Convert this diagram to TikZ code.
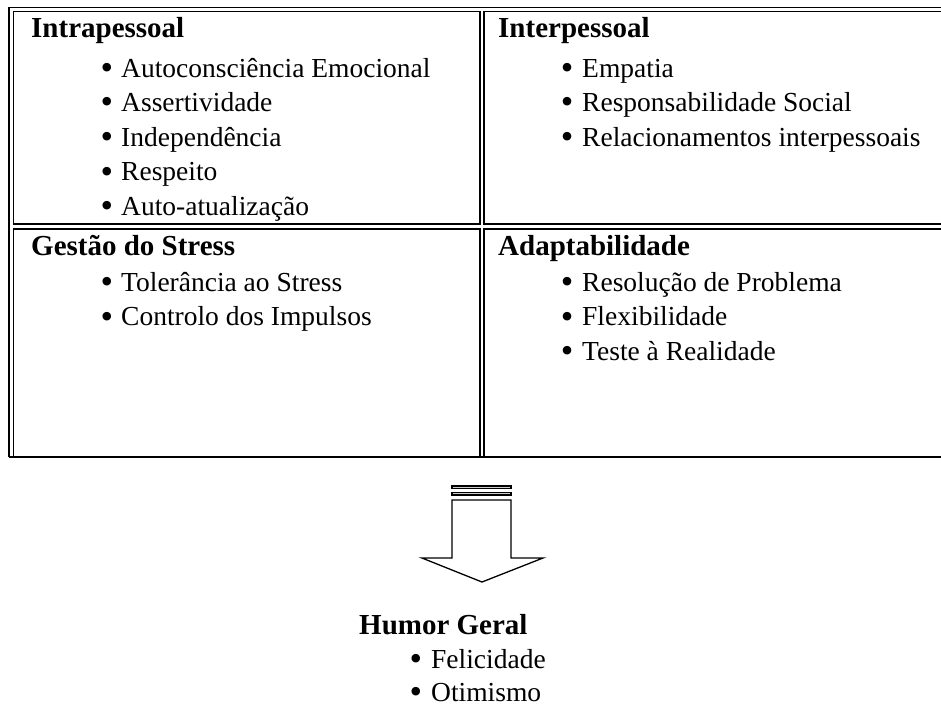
\documentclass[tikz,border=0pt]{standalone}
\usepackage{fontspec}
\setmainfont{Liberation Serif}
\newcommand{\bigbul}{\raisebox{-2.3pt}{\scalebox{1.3}{•}}}
\begin{document}
\begin{tikzpicture}[x=1pt,y=-1pt,
  txt/.style={inner sep=0pt,anchor=base west,font=\fontsize{27.5}{33}\selectfont},
  head/.style={inner sep=0pt,anchor=base west,font=\fontsize{29}{34}\selectfont\bfseries},
  bul/.style={inner sep=0pt,anchor=base,font=\fontsize{27.5}{33}\selectfont},
  tline/.style={line width=1.6pt},
  arr/.style={line width=1.3pt,fill=white}]
\useasboundingbox (0,0) rectangle (941,706);
% outer lines
\draw[tline] (9,457) -- (9,7.5) -- (941,7.5);
\draw[tline] (9,457) -- (941,457);
% inner cell frames
\draw[tline] (13.5,224) -- (13.5,11.5) -- (480,11.5) -- (480,224) -- cycle;
\draw[tline] (941,11.5) -- (484,11.5) -- (484,224) -- (941,224);
\draw[tline] (13.5,457) -- (13.5,229) -- (480,229) -- (480,457);
\draw[tline] (941,229) -- (484,229) -- (484,457);
% top-left
\node[head] (h1) at (31,38) {Intrapessoal};
\foreach \t [count=\i] in {Autoconsciência Emocional,Assertividade,Independência,Respeito,Auto-atualização}{
  \node[bul] (b1\i) at (107,42.5+\i*34.6) {\bigbul};
  \node[txt] (t1\i) at (121,42.5+\i*34.6) {\t};
}
% top-right
\node[head] (h2) at (498,38) {Interpessoal};
\foreach \t [count=\i] in {Empatia,Responsabilidade Social,Relacionamentos interpessoais}{
  \node[bul] (b2\i) at (567,42.5+\i*34.6) {\bigbul};
  \node[txt] (t2\i) at (582,42.5+\i*34.6) {\t};
}
% bottom-left
\node[head] (h3) at (31,255.5) {Gestão do Stress};
\foreach \t [count=\i] in {Tolerância ao Stress,Controlo dos Impulsos}{
  \node[bul] (b3\i) at (107,256.5+\i*34.6) {\bigbul};
  \node[txt] (t3\i) at (121,256.5+\i*34.6) {\t};
}
% bottom-right
\node[head] (h4) at (498,255.5) {Adaptabilidade};
\foreach \t [count=\i] in {Resolução de Problema,Flexibilidade,Teste à Realidade}{
  \node[bul] (b4\i) at (567,256.5+\i*34.6) {\bigbul};
  \node[txt] (t4\i) at (582,256.5+\i*34.6) {\t};
}
% arrow
\draw[line width=1.1pt,fill=gray!40] (452,486) rectangle (511,488.5);
\draw[line width=1.1pt,fill=gray!40] (452,492.5) rectangle (511,495);
\draw[arr] (452,500) -- (452,558) -- (422,558) -- (482,582) -- (543,558) -- (511,558) -- (511,500) -- cycle;
% Humor Geral
\node[head] (h5) at (359,634) {Humor Geral};
\node[bul] (b51) at (416,668) {\bigbul};
\node[txt] (t51) at (431,668) {Felicidade};
\node[bul] (b52) at (416,701) {\bigbul};
\node[txt] (t52) at (431,701) {Otimismo};
\end{tikzpicture}
\end{document}
